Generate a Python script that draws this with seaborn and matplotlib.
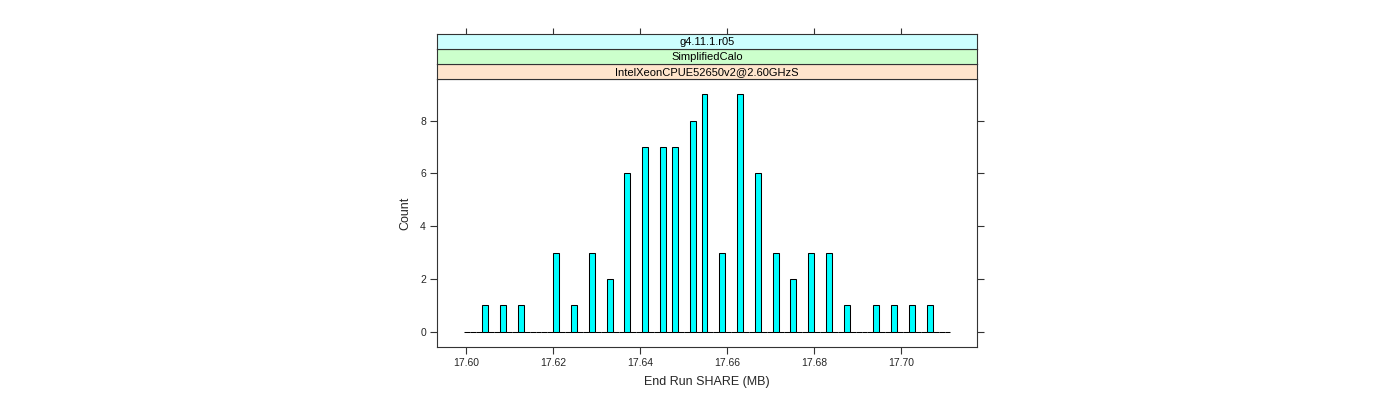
import matplotlib
matplotlib.use("Agg")
import matplotlib.pyplot as plt
import seaborn as sns
import numpy as np
import pandas as pd

# values (bin centres, MB) and their counts
share_mb = [17.6044, 17.6085, 17.6126, 17.6208, 17.6248, 17.6289, 17.6330,
            17.6371, 17.6412, 17.6453, 17.6480, 17.6521, 17.6548, 17.6589,
            17.6630, 17.6671, 17.6712, 17.6753, 17.6794, 17.6835, 17.6876,
            17.6944, 17.6985, 17.7026, 17.7067]
counts = [1, 1, 1, 3, 1, 3, 2, 6, 7, 7, 7, 8, 9, 3, 9, 6, 3, 2, 3, 3, 1,
          1, 1, 1, 1]
n_bins = 82
bin_range = (17.5996, 17.7114)
strip_labels = ["IntelXeonCPUE52650v2@2.60GHzS", "SimplifiedCalo", "g4.11.1.r05"]
strip_colors = ["#ffe5cc", "#ccffcc", "#ccffff"]
x_ticks = [17.60, 17.62, 17.64, 17.66, 17.68, 17.70]
y_ticks = [0, 2, 4, 6, 8]

sns.set_theme(style="white")
plt.rcParams["font.family"] = ["Liberation Sans", "DejaVu Sans"]

df = pd.DataFrame({"share": share_mb, "count": counts})

fig = plt.figure(figsize=(14, 4), dpi=100)
W, H = 1400, 400
px_l, px_r, px_b, px_t = 437, 977, 347, 79
ax = fig.add_axes([px_l / W, 1 - px_b / H, (px_r - px_l) / W, (px_b - px_t) / H])

sns.histplot(data=df, x="share", weights="count", bins=n_bins, binrange=bin_range,
             color="#00ffff", edgecolor="black", linewidth=0.75, alpha=1, ax=ax)

ax.set_xlim(17.5933, 17.7175)
ax.set_ylim(-0.585, 9.585)
ax.set_xticks(x_ticks)
ax.set_xticklabels([f"{t:.2f}" for t in x_ticks])
ax.set_yticks(y_ticks)
ax.set_yticklabels([str(t) for t in y_ticks])
ax.tick_params(axis="both", which="both", direction="out", length=5, width=0.8,
               color="#333333", labelsize=7.5, pad=3,
               top=False, right=True, bottom=True, left=True,
               labelright=False)
ax.set_xlabel("End Run SHARE (MB)", fontsize=9, labelpad=6)
ax.set_ylabel("Count", fontsize=9, labelpad=6)
for s in ax.spines.values():
    s.set_color("#333333")
    s.set_linewidth(0.8)
ax.grid(False)

# strips
strip_h = 15
for i, (lab, col) in enumerate(zip(strip_labels, strip_colors)):
    top = px_t - strip_h * (i + 1)
    sax = fig.add_axes([px_l / W, 1 - (top + strip_h) / H, (px_r - px_l) / W, strip_h / H])
    sax.set_facecolor(col)
    sax.set_xlim(ax.get_xlim())
    sax.set_ylim(0, 1)
    sax.set_yticks([])
    sax.text(0.5, 0.45, lab, transform=sax.transAxes, ha="center", va="center",
             fontsize=8, color="black")
    for s in sax.spines.values():
        s.set_color("#333333")
        s.set_linewidth(0.8)
    if i == len(strip_labels) - 1:
        sax.set_xticks(x_ticks)
        sax.tick_params(axis="x", direction="out", length=4, width=0.8, color="#333333",
                        top=True, bottom=False, labeltop=False, labelbottom=False)
    else:
        sax.set_xticks([])

fig.savefig("out.png", dpi=100, facecolor="white")
